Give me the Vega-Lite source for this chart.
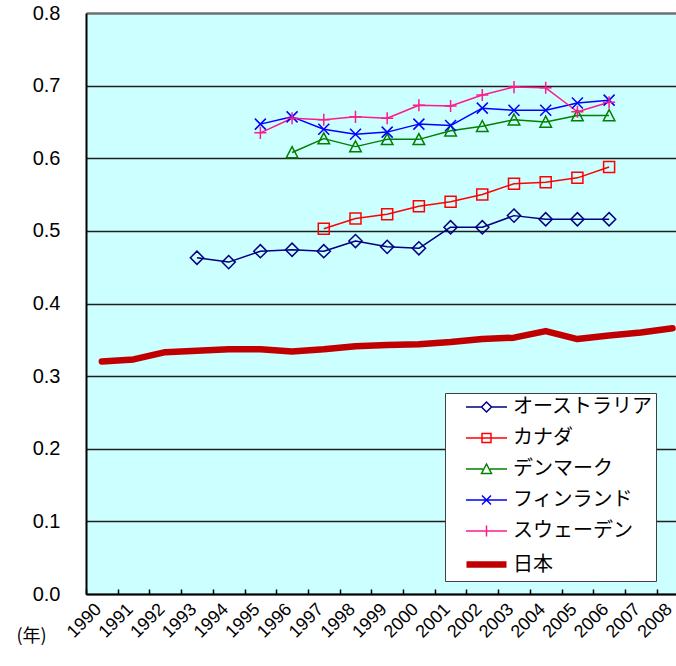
{
  "$schema": "https://vega.github.io/schema/vega-lite/v6.json",
  "width": 590,
  "height": 581,
  "autosize": "none",
  "padding": {"left": 86, "top": 13, "right": 0, "bottom": 72},
  "background": "white",
  "config": {
    "view": {"fill": "#ccffff", "stroke": null},
    "axis": {"labelFont": "Liberation Sans", "labelColor": "black"},
    "legend": {
      "orient": "none",
      "legendX": 359,
      "legendY": 380,
      "padding": 3,
      "fillColor": "white",
      "strokeColor": "#404040",
      "symbolSize": 400,
      "symbolOffset": 25,
      "labelOffset": 13,
      "rowPadding": 10,
      "labelFont": "Noto Sans CJK JP",
      "labelFontSize": 20,
      "labelColor": "black",
      "labelLimit": 300
    }
  },
  "datasets": {
    "ratio": [
      {"country": "オーストラリア", "year": 1993, "value": 0.463},
      {"country": "オーストラリア", "year": 1994, "value": 0.457},
      {"country": "オーストラリア", "year": 1995, "value": 0.472},
      {"country": "オーストラリア", "year": 1996, "value": 0.474},
      {"country": "オーストラリア", "year": 1997, "value": 0.472},
      {"country": "オーストラリア", "year": 1998, "value": 0.486},
      {"country": "オーストラリア", "year": 1999, "value": 0.478},
      {"country": "オーストラリア", "year": 2000, "value": 0.476},
      {"country": "オーストラリア", "year": 2001, "value": 0.505},
      {"country": "オーストラリア", "year": 2002, "value": 0.505},
      {"country": "オーストラリア", "year": 2003, "value": 0.521},
      {"country": "オーストラリア", "year": 2004, "value": 0.516},
      {"country": "オーストラリア", "year": 2005, "value": 0.516},
      {"country": "オーストラリア", "year": 2006, "value": 0.516},
      {"country": "カナダ", "year": 1997, "value": 0.503},
      {"country": "カナダ", "year": 1998, "value": 0.517},
      {"country": "カナダ", "year": 1999, "value": 0.523},
      {"country": "カナダ", "year": 2000, "value": 0.534},
      {"country": "カナダ", "year": 2001, "value": 0.540},
      {"country": "カナダ", "year": 2002, "value": 0.550},
      {"country": "カナダ", "year": 2003, "value": 0.565},
      {"country": "カナダ", "year": 2004, "value": 0.567},
      {"country": "カナダ", "year": 2005, "value": 0.573},
      {"country": "カナダ", "year": 2006, "value": 0.588},
      {"country": "デンマーク", "year": 1996, "value": 0.608},
      {"country": "デンマーク", "year": 1997, "value": 0.627},
      {"country": "デンマーク", "year": 1998, "value": 0.616},
      {"country": "デンマーク", "year": 1999, "value": 0.626},
      {"country": "デンマーク", "year": 2000, "value": 0.626},
      {"country": "デンマーク", "year": 2001, "value": 0.638},
      {"country": "デンマーク", "year": 2002, "value": 0.644},
      {"country": "デンマーク", "year": 2003, "value": 0.653},
      {"country": "デンマーク", "year": 2004, "value": 0.650},
      {"country": "デンマーク", "year": 2005, "value": 0.659},
      {"country": "デンマーク", "year": 2006, "value": 0.659},
      {"country": "フィンランド", "year": 1995, "value": 0.647},
      {"country": "フィンランド", "year": 1996, "value": 0.657},
      {"country": "フィンランド", "year": 1997, "value": 0.640},
      {"country": "フィンランド", "year": 1998, "value": 0.633},
      {"country": "フィンランド", "year": 1999, "value": 0.636},
      {"country": "フィンランド", "year": 2000, "value": 0.647},
      {"country": "フィンランド", "year": 2001, "value": 0.645},
      {"country": "フィンランド", "year": 2002, "value": 0.669},
      {"country": "フィンランド", "year": 2003, "value": 0.666},
      {"country": "フィンランド", "year": 2004, "value": 0.666},
      {"country": "フィンランド", "year": 2005, "value": 0.676},
      {"country": "フィンランド", "year": 2006, "value": 0.680},
      {"country": "スウェーデン", "year": 1995, "value": 0.635},
      {"country": "スウェーデン", "year": 1996, "value": 0.655},
      {"country": "スウェーデン", "year": 1997, "value": 0.653},
      {"country": "スウェーデン", "year": 1998, "value": 0.657},
      {"country": "スウェーデン", "year": 1999, "value": 0.655},
      {"country": "スウェーデン", "year": 2000, "value": 0.673},
      {"country": "スウェーデン", "year": 2001, "value": 0.672},
      {"country": "スウェーデン", "year": 2002, "value": 0.687},
      {"country": "スウェーデン", "year": 2003, "value": 0.698},
      {"country": "スウェーデン", "year": 2004, "value": 0.697},
      {"country": "スウェーデン", "year": 2005, "value": 0.664},
      {"country": "スウェーデン", "year": 2006, "value": 0.677},
      {"country": "日本", "year": 1990, "value": 0.320},
      {"country": "日本", "year": 1991, "value": 0.323},
      {"country": "日本", "year": 1992, "value": 0.333},
      {"country": "日本", "year": 1993, "value": 0.335},
      {"country": "日本", "year": 1994, "value": 0.337},
      {"country": "日本", "year": 1995, "value": 0.337},
      {"country": "日本", "year": 1996, "value": 0.334},
      {"country": "日本", "year": 1997, "value": 0.337},
      {"country": "日本", "year": 1998, "value": 0.341},
      {"country": "日本", "year": 1999, "value": 0.343},
      {"country": "日本", "year": 2000, "value": 0.344},
      {"country": "日本", "year": 2001, "value": 0.347},
      {"country": "日本", "year": 2002, "value": 0.351},
      {"country": "日本", "year": 2003, "value": 0.353},
      {"country": "日本", "year": 2004, "value": 0.362},
      {"country": "日本", "year": 2005, "value": 0.351},
      {"country": "日本", "year": 2006, "value": 0.356},
      {"country": "日本", "year": 2007, "value": 0.360},
      {"country": "日本", "year": 2008, "value": 0.366}
    ]
  },
  "data": {"name": "ratio"},
  "encoding": {
    "x": {
      "field": "year",
      "type": "quantitative",
      "scale": {"domain": [1989.5, 2008.11], "nice": false, "zero": false},
      "axis": {
        "values": [1990, 1991, 1992, 1993, 1994, 1995, 1996, 1997, 1998, 1999, 2000, 2001, 2002, 2003, 2004, 2005, 2006, 2007, 2008],
        "format": "d",
        "labelAngle": -45,
        "labelFontSize": 18,
        "labelOverlap": false,
        "labelFlush": false,
        "labelBound": false,
        "labelPadding": 11,
        "tickOffset": -15.85,
        "labelOffset": 6,
        "tickSize": -5,
        "tickColor": "black",
        "tickWidth": 1.5,
        "domainColor": "black",
        "domainWidth": 2,
        "grid": false,
        "title": "(年)",
        "titleX": -55,
        "titleY": 42,
        "titleAlign": "center",
        "titleBaseline": "middle",
        "titleFont": "Noto Sans CJK JP",
        "titleFontSize": 18,
        "titleFontWeight": "normal",
        "titleColor": "black"
      }
    },
    "y": {
      "field": "value",
      "type": "quantitative",
      "scale": {"domain": [0, 0.8], "nice": false},
      "axis": {
        "values": [0, 0.1, 0.2, 0.3, 0.4, 0.5, 0.6, 0.7, 0.8],
        "format": ".1f",
        "labelFontSize": 20,
        "labelPadding": 26,
        "ticks": false,
        "domainColor": "black",
        "domainWidth": 2,
        "grid": true,
        "gridColor": {"condition": {"test": "datum.value >= 0.79", "value": "#707070"}, "value": "#1e1e1e"},
        "gridWidth": {"condition": {"test": "datum.value >= 0.79", "value": 2.5}, "value": 1.5},
        "title": null
      }
    }
  },
  "layer": [
    {
      "transform": [{"filter": "datum.country !== '日本'"}],
      "mark": {"type": "line", "strokeWidth": 1.5, "strokeJoin": "round"},
      "encoding": {
        "color": {
          "field": "country",
          "type": "nominal",
          "title": null,
          "scale": {
            "domain": ["オーストラリア", "カナダ", "デンマーク", "フィンランド", "スウェーデン", "日本"],
            "range": ["#000080", "#ff0000", "#008000", "#0000ff", "#ff1a8c", "#c00000"]
          }
        }
      }
    },
    {
      "transform": [{"filter": "datum.country === '日本'"}],
      "mark": {"type": "line", "strokeWidth": 6.5, "strokeJoin": "round", "strokeCap": "round", "color": "#c00000"},
      "encoding": {}
    },
    {
      "transform": [{"filter": "datum.country === 'オーストラリア'"}],
      "mark": {"type": "point", "filled": false, "size": 121, "strokeWidth": 1.5, "opacity": 1, "color": "#000080", "shape": "M-1.2,0L0,-1.2L1.2,0L0,1.2Z"},
      "encoding": {}
    },
    {
      "transform": [{"filter": "datum.country === 'カナダ'"}],
      "mark": {"type": "point", "filled": false, "size": 121, "strokeWidth": 1.5, "opacity": 1, "color": "#ff0000", "shape": "M-1,-1H1V1H-1Z"},
      "encoding": {}
    },
    {
      "transform": [{"filter": "datum.country === 'デンマーク'"}],
      "mark": {"type": "point", "filled": false, "size": 121, "strokeWidth": 1.5, "opacity": 1, "color": "#008000", "shape": "M0,-1.05L1.05,0.95H-1.05Z"},
      "encoding": {}
    },
    {
      "transform": [{"filter": "datum.country === 'フィンランド'"}],
      "mark": {"type": "point", "filled": false, "size": 121, "strokeWidth": 1.5, "opacity": 1, "color": "#0000ff", "shape": "M-1,-1L1,1M-1,1L1,-1"},
      "encoding": {}
    },
    {
      "transform": [{"filter": "datum.country === 'スウェーデン'"}],
      "mark": {"type": "point", "filled": false, "size": 121, "strokeWidth": 1.5, "opacity": 1, "color": "#ff1a8c", "shape": "M-1.1,0H1.1M0,-1.1V1.1"},
      "encoding": {}
    },
    {
      "mark": {"type": "point", "filled": false, "size": 0, "opacity": 1},
      "encoding": {
        "color": {
          "field": "country",
          "type": "nominal",
          "title": null,
          "scale": {
            "domain": ["オーストラリア", "カナダ", "デンマーク", "フィンランド", "スウェーデン", "日本"],
            "range": ["#000080", "#ff0000", "#008000", "#0000ff", "#ff1a8c", "#c00000"]
          }
        },
        "shape": {
          "field": "country",
          "type": "nominal",
          "title": null,
          "scale": {
            "domain": ["オーストラリア", "カナダ", "デンマーク", "フィンランド", "スウェーデン", "日本"],
            "range": [
              "M-2.05,0H-0.5M0.5,0H2.05M-0.5,0L0,-0.5L0.5,0L0,0.5Z",
              "M-2.05,0H2.05M-0.45,-0.45H0.45V0.45H-0.45Z",
              "M-2.05,0H-0.35M0.35,0H2.05M0,-0.5L0.5,0.45H-0.5Z",
              "M-2.05,0H2.05M-0.45,-0.45L0.45,0.45M-0.45,0.45L0.45,-0.45",
              "M-2.05,0H2.05M0,-0.55V0.55",
              "M-2,0H2"
            ]
          }
        },
        "strokeWidth": {
          "field": "country",
          "type": "ordinal",
          "title": null,
          "scale": {
            "type": "ordinal",
            "domain": ["オーストラリア", "カナダ", "デンマーク", "フィンランド", "スウェーデン", "日本"],
            "range": [1.5, 1.5, 1.5, 1.5, 1.5, 6.5]
          }
        }
      }
    }
  ]
}
